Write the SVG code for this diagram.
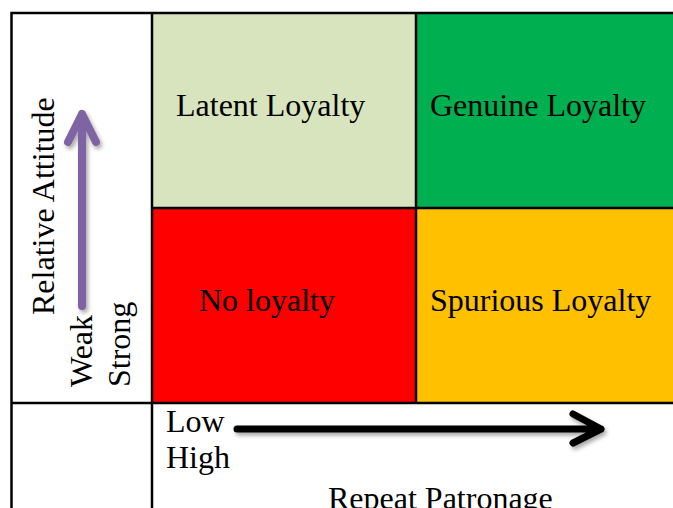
<svg xmlns="http://www.w3.org/2000/svg" width="673" height="508" viewBox="0 0 673 508">
<defs>
<style>
.t{font-family:"Liberation Serif","Times New Roman",serif;font-size:32px;fill:#000}
.grid{stroke:#000;stroke-width:2.5;fill:none}
</style>
<filter id="sh" x="-20%" y="-20%" width="140%" height="140%">
<feGaussianBlur in="SourceAlpha" stdDeviation="2"/>
<feOffset dx="2" dy="3" result="b"/>
<feComponentTransfer><feFuncA type="linear" slope="0.35"/></feComponentTransfer>
<feMerge><feMergeNode/><feMergeNode in="SourceGraphic"/></feMerge>
</filter>
</defs>
<rect width="673" height="508" fill="#fff"/>
<g id="latent">
<rect x="152" y="13" width="264" height="195" fill="#D7E4BD"/>
<text class="t" x="176" y="116">Latent Loyalty</text>
</g>
<g id="genuine">
<rect x="416" y="13" width="257" height="195" fill="#00B050"/>
<text class="t" x="430" y="116">Genuine Loyalty</text>
</g>
<g id="noloyalty">
<rect x="152" y="208" width="264" height="195" fill="#FF0000"/>
<text class="t" x="199" y="311">No loyalty</text>
</g>
<g id="spurious">
<rect x="416" y="208" width="257" height="195" fill="#FFC000"/>
<text class="t" x="430" y="311">Spurious Loyalty</text>
</g>
<g id="grid">
<path class="grid" d="M11.5 510 V13 H675 M152 13 V510 M416 13 V403 M11.5 208 M152 208 H675 M11.5 403 H675"/>
</g>
<g id="y-axis-labels">
<text class="t" transform="translate(54 315) rotate(-90)">Relative Attitude</text>
<text class="t" transform="translate(92 387) rotate(-90)">Weak</text>
<text class="t" transform="translate(130 387) rotate(-90)">Strong</text>
</g>
<g id="x-axis-labels">
<text class="t" x="166" y="432">Low</text>
<text class="t" x="166" y="468">High</text>
<text class="t" x="328" y="509">Repeat Patronage</text>
</g>
<g id="connectors">
<g filter="url(#sh)" fill="none" stroke-linecap="round" stroke-linejoin="round">
<path d="M82 306 V114 M68 142 L82 114 L96 142" stroke="#8064A2" stroke-width="8"/>
<path d="M237 429 H601 M573 414 L601 429 L573 443" stroke="#000" stroke-width="7"/>
</g>
</g>
</svg>
